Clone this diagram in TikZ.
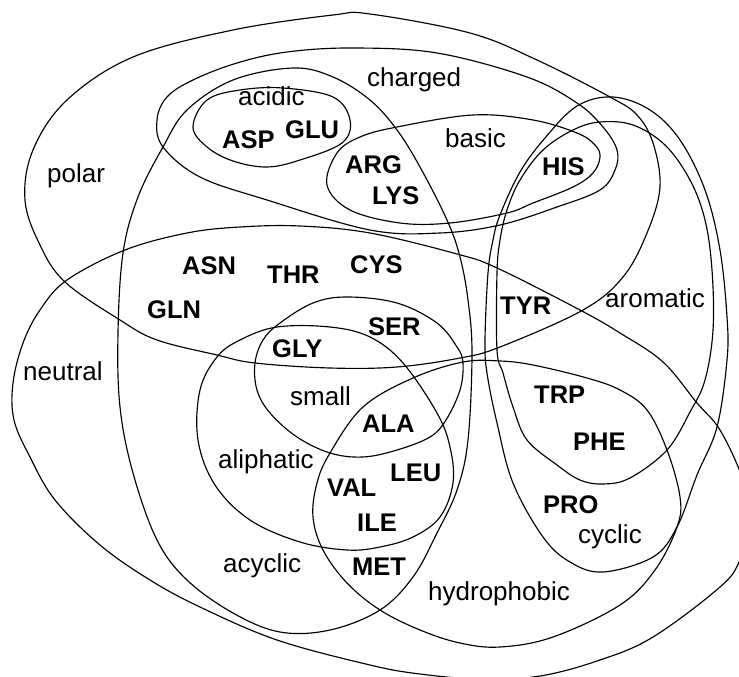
\documentclass[tikz,border=0pt]{standalone}
\usepackage{fontspec}
\setmainfont{Liberation Sans}
\begin{document}
\begin{tikzpicture}[x=1pt,y=-1pt,
  setline/.style={line width=1.15pt, line join=round, smooth cycle, tension=0.6},
  setname/.style={font=\fontsize{26}{30}\selectfont, inner sep=0pt, anchor=base west},
  acid/.style={font=\fontsize{25.5}{30}\selectfont\bfseries, inner sep=0pt, anchor=base west}]
\useasboundingbox (0,0) rectangle (739,677);
\clip (0,0) rectangle (739,677);

% polar
\draw[setline] plot coordinates {(25,200) (33,150) (67,100) (133,57) (233,30) (333,15) (370,14) (470,33) (537,60) (610,97) (637,115) (653,143) (660,187) (647,233) (623,277) (583,310) (500,347) (460,358) (397,367) (330,368) (255,363) (217,355) (157,340) (120,320) (65,282) (40,245)};
% charged
\draw[setline] plot coordinates {(157,120) (167,97) (193,80) (237,63) (287,52) (353,48) (437,53) (527,77) (577,103) (603,127) (617,150) (615,170) (600,190) (557,207) (500,225) (440,233) (370,230) (267,200) (200,177) (163,147)};
% acidic
\draw[setline] plot coordinates {(193,127) (207,100) (240,90) (283,88) (333,97) (350,120) (342,143) (300,160) (267,167) (233,161) (207,147)};
% basic
\draw[setline] plot coordinates {(327,185) (337,153) (360,137) (397,127) (473,115) (533,120) (577,133) (595,145) (600,157) (593,173) (573,187) (533,203) (507,213) (450,223) (400,223) (350,210)};
% neutral
\draw[setline] plot coordinates {(13,383) (23,343) (40,310) (67,280) (125,250) (187,233) (240,227) (300,226) (370,233) (457,254) (497,268) (580,310) (620,333) (663,362) (697,403) (720,430) (742,477) (752,520) (740,560) (720,587) (653,637) (600,660) (540,676) (480,679) (420,674) (370,665) (277,640) (200,607) (150,580) (100,545) (55,500) (30,457) (14,420)};
% acyclic
\draw[setline] plot coordinates {(163,147) (187,110) (233,80) (293,68) (333,77) (370,100) (397,130) (420,167) (447,220) (460,257) (468,300) (472,353) (468,440) (457,490) (437,533) (413,577) (380,610) (330,630) (280,632) (233,613) (187,580) (157,540) (133,473) (120,407) (118,333) (123,253) (138,197)};
% small
\draw[setline] plot coordinates {(255,363) (257,390) (270,413) (297,437) (330,453) (363,457) (397,450) (430,437) (446,420) (460,390) (463,363) (457,347) (437,323) (397,303) (347,297) (313,303) (280,323) (263,340)};
% aliphatic
\draw[setline] plot coordinates {(217,357) (240,340) (277,327) (330,327) (370,337) (403,363) (437,413) (450,447) (453,483) (440,517) (413,537) (380,547) (347,550) (300,542) (250,520) (215,485) (198,440) (200,390)};
% hydrophobic
\draw[setline] plot coordinates {(330,453) (363,407) (413,378) (463,362) (500,361) (533,365) (587,378) (620,390) (647,410) (667,450) (680,497) (677,527) (655,570) (620,605) (553,637) (500,647) (460,643) (420,630) (380,610) (347,583) (323,550) (313,517) (317,483)};
% cyclic
\draw[setline] plot coordinates {(485,340) (488,273) (493,240) (500,215) (520,172) (545,138) (577,106) (613,97) (650,110) (680,140) (705,190) (720,250) (727,317) (727,360) (717,427) (697,475) (677,527) (653,557) (603,572) (570,562) (543,537) (513,483) (497,423) (487,373)};
% aromatic
\draw[setline] plot coordinates {(497,350) (497,273) (500,240) (507,210) (520,180) (543,150) (573,130) (600,122) (633,125) (665,145) (690,180) (705,220) (712,270) (713,330) (705,380) (690,412) (667,450) (630,478) (603,484) (580,480) (557,465) (527,440) (513,407) (503,373)};

% set names
\node[setname] (tPolar) at (47,182) {polar};
\node[setname] (tCharged) at (367,87) {charged};
\node[setname] (tAcidic) at (238,105) {acidic};
\node[setname] (tBasic) at (445,147) {basic};
\node[setname] (tNeutral) at (23,380) {neutral};
\node[setname] (tAromatic) at (605,307) {aromatic};
\node[setname] (tSmall) at (290,405) {small};
\node[setname] (tAliphatic) at (218,468) {aliphatic};
\node[setname] (tCyclic) at (578,543) {cyclic};
\node[setname] (tAcyclic) at (223,572) {acyclic};
\node[setname] (tHydro) at (428,600) {hydrophobic};

% amino acids
\node[acid] (ASP) at (222,148) {ASP};
\node[acid] (GLU) at (285,138) {GLU};
\node[acid] (ARG) at (345,173) {ARG};
\node[acid] (LYS) at (372,204) {LYS};
\node[acid] (HIS) at (542,175) {HIS};
\node[acid] (ASN) at (182,274) {ASN};
\node[acid] (THR) at (267,283) {THR};
\node[acid] (CYS) at (350,273) {CYS};
\node[acid] (GLN) at (147,318) {GLN};
\node[acid] (TYR) at (500,314) {TYR};
\node[acid] (SER) at (368,335) {SER};
\node[acid] (GLY) at (272,357) {GLY};
\node[acid] (ALA) at (362,432) {ALA};
\node[acid] (TRP) at (534,403) {TRP};
\node[acid] (PHE) at (573,450) {PHE};
\node[acid] (LEU) at (390,481) {LEU};
\node[acid] (VAL) at (327,496) {VAL};
\node[acid] (ILE) at (357,531) {ILE};
\node[acid] (PRO) at (543,513) {PRO};
\node[acid] (MET) at (352,575) {MET};
\end{tikzpicture}
\end{document}
